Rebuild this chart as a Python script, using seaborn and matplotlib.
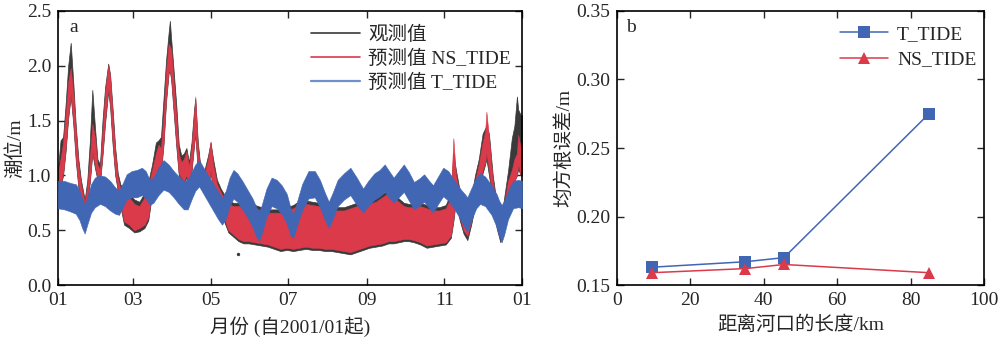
import matplotlib
matplotlib.use("Agg")
import matplotlib.pyplot as plt
from matplotlib.lines import Line2D
import seaborn as sns
import pandas as pd

# ---------------- panel a: water level, 2001 (day of year) ----------------
# observed (obs) and NS_TIDE share one time grid; each band is the visible
# hourly range (upper / lower envelope) of the series
wl_days = [0, 2, 4, 6, 8, 10, 12, 14, 16, 18, 21, 23, 25, 27, 29, 31, 33, 35, 37, 39.5,
           41, 43, 45, 47, 49, 52, 56, 60, 64, 68, 71, 74, 77, 79, 81, 83, 85, 87, 88, 89,
           91, 93, 95, 97, 99, 101, 103, 105, 107, 108, 110, 112, 115, 118, 120, 122, 125, 128, 131, 134,
           138, 142, 146, 150, 155, 160, 165, 170, 175, 180, 185, 190, 195, 200, 205, 210, 215, 220, 225, 230,
           235, 240, 245, 250, 255, 260, 264, 268, 272, 276, 280, 285, 290, 295, 300, 305, 309, 311, 313, 316,
           319, 322, 325, 328, 331, 334, 336, 337, 339, 342, 345, 348, 351, 354, 357, 359, 361, 362, 364, 365]
ns_hi = [1.02, 1.15, 1.30, 1.55, 1.85, 1.98, 1.75, 1.40, 1.10, 0.92, 0.75, 0.90, 1.15, 1.47, 1.35, 1.10, 1.05, 1.40, 1.75, 2.00,
         1.90, 1.55, 1.20, 0.98, 0.88, 0.84, 0.80, 0.74, 0.72, 0.80, 0.90, 1.05, 1.20, 1.28, 1.25, 1.55, 1.95, 2.20, 2.18, 2.15,
         1.85, 1.55, 1.20, 1.12, 1.15, 1.22, 1.08, 1.25, 1.55, 1.72, 1.25, 1.05, 1.00, 1.15, 1.31, 1.10, 0.92, 0.85, 0.78, 0.74,
         0.72, 0.72, 0.72, 0.71, 0.70, 0.68, 0.66, 0.66, 0.66, 0.68, 0.70, 0.74, 0.74, 0.73, 0.72, 0.70, 0.68, 0.68, 0.68, 0.70,
         0.72, 0.72, 0.74, 0.76, 0.80, 0.84, 0.80, 0.76, 0.72, 0.71, 0.71, 0.72, 0.70, 0.68, 0.68, 0.70, 0.80, 1.34, 1.00, 0.82,
         0.65, 0.60, 0.75, 0.95, 1.10, 1.30, 1.40, 1.58, 1.35, 0.95, 0.70, 0.52, 0.75, 0.95, 1.05, 1.15, 1.20, 1.37, 1.25, 1.30]
ns_lo = [0.88, 0.92, 1.02, 1.25, 1.55, 1.75, 1.50, 1.15, 0.92, 0.80, 0.68, 0.80, 0.95, 1.22, 1.10, 0.98, 0.95, 1.20, 1.50, 1.80,
         1.65, 1.30, 1.02, 0.88, 0.75, 0.58, 0.55, 0.50, 0.52, 0.55, 0.62, 0.85, 1.00, 1.08, 1.05, 1.30, 1.70, 1.95, 1.95, 1.90,
         1.60, 1.30, 1.02, 0.98, 0.95, 1.00, 0.92, 1.05, 1.30, 1.40, 1.05, 0.92, 0.88, 0.90, 1.05, 0.88, 0.80, 0.72, 0.60, 0.50,
         0.46, 0.42, 0.40, 0.40, 0.39, 0.38, 0.37, 0.35, 0.33, 0.34, 0.33, 0.34, 0.35, 0.34, 0.34, 0.33, 0.33, 0.32, 0.31, 0.30,
         0.32, 0.34, 0.36, 0.37, 0.38, 0.40, 0.40, 0.41, 0.42, 0.42, 0.41, 0.39, 0.36, 0.37, 0.38, 0.39, 0.45, 0.60, 0.80, 0.62,
         0.50, 0.45, 0.58, 0.75, 0.90, 1.05, 1.12, 1.20, 1.05, 0.80, 0.55, 0.43, 0.55, 0.80, 0.85, 0.95, 1.00, 1.10, 1.00, 1.02]
obs_hi = [1.06, 1.32, 1.35, 1.65, 2.00, 2.21, 1.85, 1.45, 1.15, 0.96, 0.78, 0.95, 1.30, 1.78, 1.45, 1.15, 1.10, 1.50, 1.80, 2.02,
          1.92, 1.60, 1.25, 1.02, 0.92, 0.87, 0.83, 0.78, 0.76, 0.84, 0.94, 1.10, 1.30, 1.32, 1.35, 1.70, 2.05, 2.30, 2.41, 2.25,
          1.95, 1.65, 1.28, 1.18, 1.20, 1.25, 1.12, 1.30, 1.60, 1.70, 1.30, 1.08, 1.04, 1.18, 1.30, 1.15, 0.96, 0.88, 0.82, 0.77,
          0.75, 0.75, 0.75, 0.74, 0.73, 0.71, 0.69, 0.69, 0.69, 0.71, 0.73, 0.77, 0.77, 0.76, 0.75, 0.73, 0.71, 0.71, 0.71, 0.73,
          0.75, 0.75, 0.77, 0.79, 0.83, 0.87, 0.83, 0.79, 0.75, 0.74, 0.74, 0.75, 0.73, 0.71, 0.71, 0.73, 0.84, 1.20, 1.05, 0.86,
          0.68, 0.63, 0.80, 1.00, 1.15, 1.38, 1.43, 1.45, 1.38, 1.00, 0.75, 0.55, 0.80, 1.04, 1.34, 1.45, 1.72, 1.60, 1.55, 1.55]
obs_lo = [0.86, 0.90, 1.00, 1.22, 1.52, 1.72, 1.47, 1.13, 0.89, 0.78, 0.66, 0.78, 0.93, 1.20, 1.07, 0.96, 0.93, 1.18, 1.47, 1.77,
          1.62, 1.27, 1.00, 0.86, 0.72, 0.55, 0.52, 0.48, 0.49, 0.52, 0.59, 0.83, 0.98, 1.06, 1.03, 1.28, 1.67, 1.93, 1.95, 1.87,
          1.57, 1.27, 1.00, 0.96, 0.93, 0.98, 0.90, 1.03, 1.27, 1.38, 1.03, 0.90, 0.86, 0.88, 1.03, 0.86, 0.78, 0.70, 0.57, 0.48,
          0.44, 0.40, 0.38, 0.38, 0.37, 0.36, 0.35, 0.33, 0.31, 0.32, 0.31, 0.32, 0.33, 0.32, 0.32, 0.31, 0.31, 0.30, 0.29, 0.28,
          0.30, 0.32, 0.34, 0.35, 0.36, 0.38, 0.38, 0.39, 0.40, 0.40, 0.39, 0.37, 0.34, 0.35, 0.36, 0.37, 0.43, 0.58, 0.77, 0.59,
          0.47, 0.41, 0.55, 0.72, 0.87, 1.02, 1.10, 1.15, 1.00, 0.77, 0.52, 0.39, 0.53, 0.77, 0.85, 0.95, 1.00, 1.06, 1.00, 1.00]
# isolated low observation
obs_out_day = [141.5]
obs_out_val = [0.28]

# T_TIDE prediction band
tt_days = [0, 5, 10, 14, 17, 19, 21, 23, 26, 29, 33, 37, 41, 45, 48, 51, 54, 58, 62, 66,
           69, 72, 75, 79, 83, 87, 91, 95, 99, 102, 105, 108, 111, 114, 118, 122, 126, 129, 132, 135,
           138, 141, 145, 149, 153, 156, 158, 160, 164, 168, 172, 176, 180, 183, 185, 188, 192, 197, 202, 206,
           210, 213, 216, 220, 225, 230, 235, 240, 244, 249, 253, 257, 261, 264, 268, 272, 276, 280, 284, 288,
           292, 295, 299, 303, 307, 312, 317, 320, 322, 325, 329, 332, 336, 341, 345, 347, 349, 351, 354, 358,
           362, 365]
tt_hi = [0.95, 0.95, 0.93, 0.92, 0.86, 0.79, 0.73, 0.80, 0.92, 0.98, 1.00, 0.99, 0.95, 0.89, 0.86, 0.93, 1.01, 1.04, 1.05, 1.07,
         1.04, 0.96, 0.98, 1.07, 1.14, 1.10, 1.04, 0.99, 0.95, 0.96, 1.03, 1.10, 1.14, 1.08, 1.00, 0.93, 0.85, 0.80, 0.86, 0.98,
         1.05, 1.02, 0.95, 0.87, 0.79, 0.71, 0.67, 0.72, 0.88, 0.98, 0.96, 0.91, 0.83, 0.70, 0.64, 0.76, 0.92, 1.04, 1.04, 0.96,
         0.84, 0.76, 0.84, 0.96, 1.02, 1.07, 0.98, 0.88, 0.95, 1.02, 1.05, 1.10, 1.03, 0.98, 1.04, 1.10, 1.03, 0.94, 0.97, 1.01,
         0.95, 0.91, 0.99, 1.07, 1.04, 0.95, 0.87, 0.83, 0.80, 0.88, 0.98, 1.02, 0.99, 0.91, 0.83, 0.77, 0.73, 0.77, 0.86, 0.95,
         0.96, 0.95]
tt_lo = [0.70, 0.69, 0.67, 0.65, 0.59, 0.52, 0.47, 0.55, 0.66, 0.71, 0.74, 0.72, 0.68, 0.65, 0.64, 0.71, 0.78, 0.80, 0.80, 0.82,
         0.79, 0.73, 0.75, 0.82, 0.87, 0.85, 0.80, 0.74, 0.69, 0.69, 0.78, 0.86, 0.90, 0.84, 0.76, 0.68, 0.60, 0.55, 0.60, 0.72,
         0.79, 0.76, 0.69, 0.62, 0.53, 0.44, 0.40, 0.46, 0.62, 0.72, 0.70, 0.65, 0.56, 0.45, 0.43, 0.54, 0.68, 0.79, 0.80, 0.71,
         0.59, 0.52, 0.60, 0.72, 0.78, 0.82, 0.73, 0.66, 0.72, 0.78, 0.81, 0.85, 0.79, 0.75, 0.80, 0.85, 0.77, 0.69, 0.72, 0.76,
         0.70, 0.66, 0.74, 0.81, 0.77, 0.69, 0.59, 0.52, 0.49, 0.59, 0.70, 0.74, 0.72, 0.64, 0.53, 0.45, 0.39, 0.46, 0.60, 0.70,
         0.71, 0.70]

month_ticks = [0, 59, 120, 181, 243, 304, 365]
month_labels = ["01", "03", "05", "07", "09", "11", "01"]

# ---------------- panel b: RMSE vs distance from the river mouth ----------------
dist_km = [9.5, 35, 45.5, 85]
rmse_t_tide = [0.163, 0.167, 0.170, 0.275]
rmse_ns_tide = [0.159, 0.162, 0.165, 0.159]

C_OBS = "#3a3a3a"
C_NS = "#db3a4b"
C_TT = "#4166b4"

sns.set_style("ticks")
plt.rcParams["font.family"] = ["Liberation Serif", "Noto Sans CJK SC"]
plt.rcParams["axes.unicode_minus"] = False
FS = 14

fig = plt.figure(figsize=(10, 3.43), dpi=100)
ax1 = fig.add_axes([0.058, 0.169, 0.464, 0.799])
ax2 = fig.add_axes([0.617, 0.169, 0.367, 0.799])

# panel a bands
ax1.fill_between(wl_days, obs_lo, obs_hi, color=C_OBS, lw=0.5, zorder=1)
ax1.scatter(obs_out_day, obs_out_val, s=2, color=C_OBS, zorder=1)
ax1.fill_between(wl_days, ns_lo, ns_hi, color=C_NS, lw=0.4, zorder=2)
ax1.fill_between(tt_days, tt_lo, tt_hi, color=C_TT, lw=0.4, zorder=3)

ax1.set_xlim(0, 365)
ax1.set_ylim(0, 2.5)
ax1.set_xticks(month_ticks)
ax1.set_xticklabels(month_labels)
ax1.set_yticks([0, 0.5, 1.0, 1.5, 2.0, 2.5])
ax1.set_yticklabels(["0.0", "0.5", "1.0", "1.5", "2.0", "2.5"])
ax1.set_xlabel("月份 (自2001/01起)", fontsize=FS, labelpad=5)
ax1.set_ylabel("潮位/m", fontsize=FS, labelpad=2)
ax1.text(0.025, 0.97, "a", transform=ax1.transAxes, fontsize=FS, va="top", ha="left")

handles = [Line2D([], [], color=C_OBS, lw=1.2),
           Line2D([], [], color=C_NS, lw=1.2),
           Line2D([], [], color="#6f8fcc", lw=1.6)]
ax1.legend(handles, ["观测值", "预测值 NS_TIDE", "预测值 T_TIDE"], loc="upper left",
           bbox_to_anchor=(0.52, 0.99), frameon=False, fontsize=FS,
           handlelength=2.5, handletextpad=0.45, labelspacing=0.32, borderaxespad=0.2)

# panel b lines
df = pd.DataFrame({
    "dist": dist_km * 2,
    "rmse": rmse_t_tide + rmse_ns_tide,
    "model": ["T_TIDE"] * len(dist_km) + ["NS_TIDE"] * len(dist_km),
})
sns.lineplot(data=df, x="dist", y="rmse", hue="model", style="model",
             hue_order=["T_TIDE", "NS_TIDE"], style_order=["T_TIDE", "NS_TIDE"],
             palette={"T_TIDE": C_TT, "NS_TIDE": C_NS},
             markers={"T_TIDE": "s", "NS_TIDE": "^"}, dashes=False,
             markersize=8, markeredgewidth=0, linewidth=1.1, ax=ax2)
ax2.set_xlim(0, 100)
ax2.set_ylim(0.15, 0.35)
ax2.set_xticks([0, 20, 40, 60, 80, 100])
ax2.set_yticks([0.15, 0.20, 0.25, 0.30, 0.35])
ax2.set_yticklabels(["0.15", "0.20", "0.25", "0.30", "0.35"])
ax2.set_xlabel("距离河口的长度/km", fontsize=FS, labelpad=5)
ax2.set_ylabel("均方根误差/m", fontsize=FS, labelpad=2)
ax2.text(0.025, 0.97, "b", transform=ax2.transAxes, fontsize=FS, va="top", ha="left")
h, l = ax2.get_legend_handles_labels()
ax2.legend(h, l, loc="upper left", bbox_to_anchor=(0.575, 0.99), frameon=False,
           fontsize=FS, handlelength=2.5, handletextpad=0.45, labelspacing=0.4,
           borderaxespad=0.2)

for ax in (ax1, ax2):
    ax.tick_params(direction="in", top=True, right=True, length=5, width=1,
                   labelsize=FS, pad=5)
    for s in ax.spines.values():
        s.set_visible(True)
        s.set_linewidth(1.2)
        s.set_color("black")

fig.savefig("out.png", dpi=100)
